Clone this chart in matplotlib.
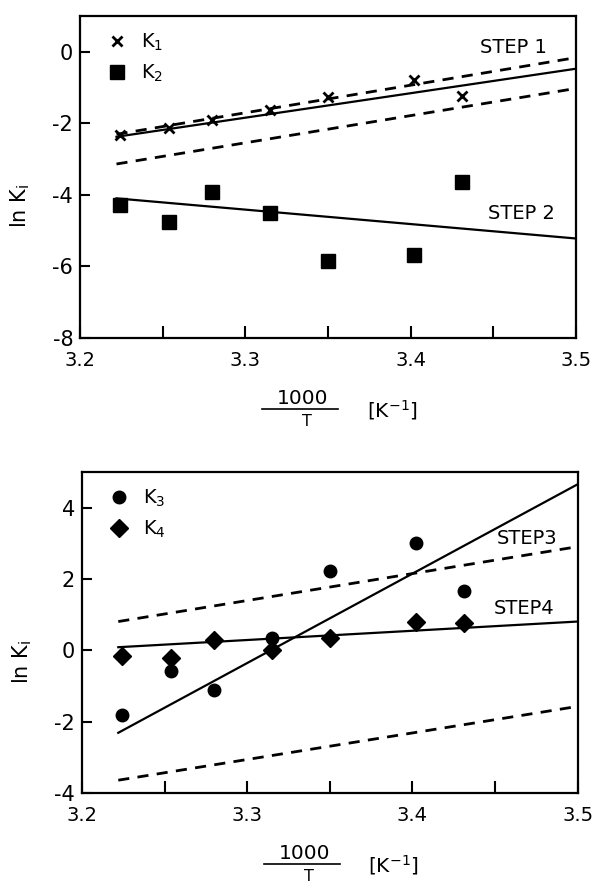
import matplotlib
matplotlib.use("Agg")
import matplotlib.pyplot as plt
from matplotlib.lines import Line2D
from matplotlib.transforms import offset_copy

# 1000/T values of the measurements
x_pts = [3.224, 3.254, 3.280, 3.315, 3.350, 3.402, 3.431]

# top panel: ln K1, ln K2
ln_k1 = [-2.33, -2.14, -1.91, -1.63, -1.28, -0.79, -1.23]
ln_k2 = [-4.29, -4.77, -3.92, -4.52, -5.86, -5.69, -3.64]

# bottom panel: ln K3, ln K4
ln_k3 = [-1.80, -0.59, -1.12, 0.36, 2.24, 3.02, 1.68]
ln_k4 = [-0.17, -0.21, 0.30, 0.02, 0.35, 0.81, 0.76]

# fitted lines (end points) and bounds
fit_x = [3.222, 3.5]
step1_fit = [-2.38, -0.48]
step1_up = [-2.31, -0.17]
step1_lo = [-3.14, -1.03]
step2_fit = [-4.10, -5.22]
step3_fit = [-2.31, 4.66]
step4_fit = [0.09, 0.81]
step34_up = [0.81, 2.91]
step34_lo = [-3.64, -1.57]

xticks = [3.2, 3.25, 3.3, 3.35, 3.4, 3.45, 3.5]
xtick_labels = ["3.2", "", "3.3", "", "3.4", "", "3.5"]

plt.rcParams['font.family'] = ['DejaVu Sans']
plt.rcParams['mathtext.fontset'] = 'dejavusans'

fig = plt.figure(figsize=(5.98, 8.84), dpi=100)
ax1 = fig.add_axes([0.134, 0.6176, 0.829, 0.3646])
ax2 = fig.add_axes([0.137, 0.1029, 0.829, 0.363])

dash = (0, (4, 3))


def style_axis(ax, ylim, yticks):
    ax.set_xlim(3.2, 3.5)
    ax.set_ylim(*ylim)
    ax.set_xticks(xticks)
    ax.set_xticklabels(xtick_labels, fontsize=14)
    ax.set_yticks(yticks)
    ax.set_yticklabels([str(v) for v in yticks], fontsize=15)
    ax.tick_params(axis='x', direction='in', length=9, width=1.5, pad=9)
    ax.tick_params(axis='y', direction='in', length=7, width=1.5, pad=5)
    for s in ax.spines.values():
        s.set_linewidth(1.6)
    ax.set_ylabel(r"ln K$_\mathrm{i}$", fontsize=15)
    ax.yaxis.set_label_coords(-0.097, 0.41)

    # x label drawn as a stacked fraction: 1000 / T  [K^-1]
    def below(dy):
        return offset_copy(ax.transAxes, fig=fig, y=-dy, units='dots')
    ax.text(0.449, 0, "1000", fontsize=14.5, ha='center', va='center',
            transform=below(60))
    ax.plot([0.367, 0.52], [0, 0], color='black', lw=1.2, clip_on=False,
            transform=below(71))
    ax.text(0.458, 0, "T", fontsize=11.5, ha='center', va='center',
            transform=below(83))
    ax.text(0.629, 0, r"[K$^{-1}$]", fontsize=14.5, ha='center', va='center',
            transform=below(72))


def add_legend(ax, handles, labels):
    ax.legend(handles, labels, loc='upper left', frameon=False, fontsize=14,
              handlelength=1.2, handletextpad=0.6, borderaxespad=0.0,
              borderpad=0.4, labelspacing=0.5, bbox_to_anchor=(0.036, 0.975))


# top panel
ax1.plot(fit_x, step1_fit, color='black', lw=1.6)
ax1.plot(fit_x, step1_up, color='black', lw=2, linestyle=dash)
ax1.plot(fit_x, step1_lo, color='black', lw=2, linestyle=dash)
ax1.plot(fit_x, step2_fit, color='black', lw=1.6)
ax1.plot(x_pts, ln_k1, linestyle='none', marker='x', color='black', ms=7, mew=2)
ax1.plot(x_pts, ln_k2, linestyle='none', marker='s', color='black', ms=10)
ax1.text(3.442, 0.11, "STEP 1", fontsize=14, va='center')
ax1.text(3.447, -4.52, "STEP 2", fontsize=14, va='center')
style_axis(ax1, (-8, 1), [-8, -6, -4, -2, 0])
h1 = [Line2D([], [], linestyle='none', marker='x', color='black', ms=7, mew=2),
      Line2D([], [], linestyle='none', marker='s', color='black', ms=10)]
add_legend(ax1, h1, [r"K$_1$", r"K$_2$"])

# bottom panel
ax2.plot(fit_x, step3_fit, color='black', lw=1.6)
ax2.plot(fit_x, step4_fit, color='black', lw=1.6)
ax2.plot(fit_x, step34_up, color='black', lw=2, linestyle=dash)
ax2.plot(fit_x, step34_lo, color='black', lw=2, linestyle=dash)
ax2.plot(x_pts, ln_k3, linestyle='none', marker='o', color='black', ms=9)
ax2.plot(x_pts, ln_k4, linestyle='none', marker='D', color='black', ms=9)
ax2.text(3.451, 3.14, "STEP3", fontsize=14, va='center')
ax2.text(3.449, 1.18, "STEP4", fontsize=14, va='center')
style_axis(ax2, (-4, 5), [-4, -2, 0, 2, 4])
h2 = [Line2D([], [], linestyle='none', marker='o', color='black', ms=9),
      Line2D([], [], linestyle='none', marker='D', color='black', ms=9)]
add_legend(ax2, h2, [r"K$_3$", r"K$_4$"])

fig.savefig("out.png", dpi=100)
